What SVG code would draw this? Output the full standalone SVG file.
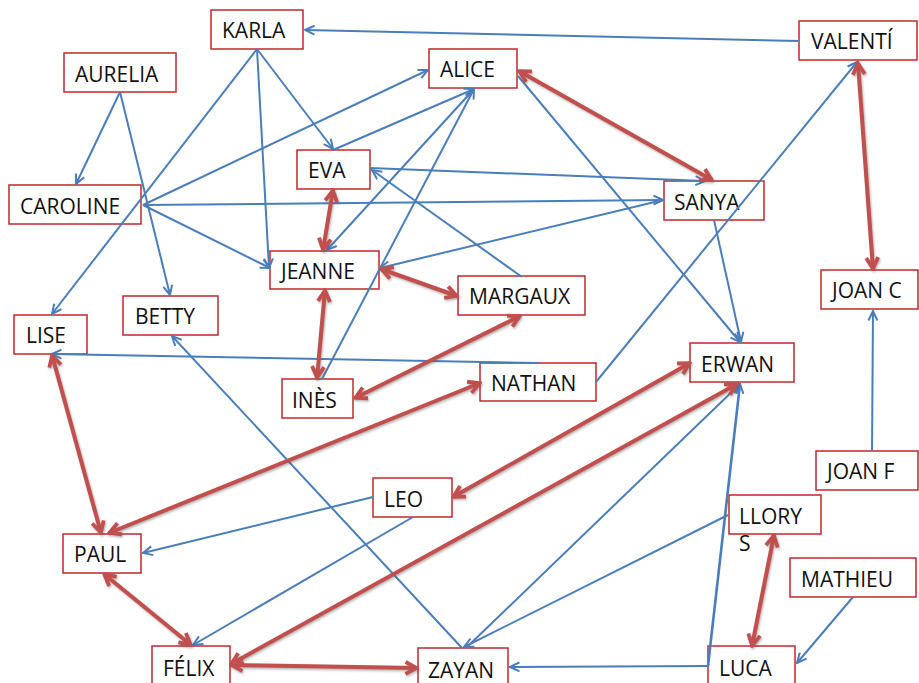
<svg xmlns="http://www.w3.org/2000/svg" width="919" height="683" viewBox="0 0 919 683">
<style>
.box{fill:#fff;stroke:#c4262b;stroke-width:1.5}
.lbl{font-family:"Open Sans","Liberation Sans",sans-serif;font-size:21px;fill:#111}
.b{stroke:#4a7ebb;stroke-width:2;fill:none;marker-end:url(#ab)}
.r{stroke:#c0504d;stroke-width:4;fill:none;marker-start:url(#ar);marker-end:url(#ar)}
</style>
<defs>
<marker id="ab" viewBox="0 0 12 12" refX="11" refY="6" markerWidth="12" markerHeight="12" markerUnits="userSpaceOnUse" orient="auto">
<path d="M1.5,1.5 L11,6 L1.5,10.5" fill="none" stroke="#4a7ebb" stroke-width="2"/>
</marker>
<marker id="ar" viewBox="0 0 16 16" refX="14" refY="8" markerWidth="16" markerHeight="16" markerUnits="userSpaceOnUse" orient="auto-start-reverse">
<path d="M2.5,2 L13.5,8 L2.5,14" fill="none" stroke="#c0504d" stroke-width="3.8" stroke-linejoin="miter"/>
</marker>
<filter id="sh" x="-10%" y="-10%" width="120%" height="120%">
<feDropShadow dx="1" dy="1.5" stdDeviation="0.8" flood-color="#555" flood-opacity="0.45"/>
</filter>
</defs>
<rect width="919" height="683" fill="#fff"/>
<g id="nodes">
<g id="karla"><rect class="box" x="211" y="10" width="92" height="39"/><text class="lbl" x="222" y="38">KARLA</text></g>
<g id="aurelia"><rect class="box" x="64" y="53" width="112" height="39"/><text class="lbl" x="75" y="82">AURELIA</text></g>
<g id="caroline"><rect class="box" x="9" y="185" width="132" height="39"/><text class="lbl" x="20" y="214">CAROLINE</text></g>
<g id="alice"><rect class="box" x="429" y="49" width="88" height="39"/><text class="lbl" x="440" y="77">ALICE</text></g>
<g id="eva"><rect class="box" x="297" y="150" width="73" height="39"/><text class="lbl" x="308" y="178">EVA</text></g>
<g id="valenti"><rect class="box" x="799" y="21" width="118" height="39"/><text class="lbl" x="811" y="49">VALENTÍ</text></g>
<g id="sanya"><rect class="box" x="664" y="181" width="100" height="39"/><text class="lbl" x="674" y="210">SANYA</text></g>
<g id="lise"><rect class="box" x="14" y="315" width="73" height="39"/><text class="lbl" x="26" y="343">LISE</text></g>
<g id="betty"><rect class="box" x="123" y="296" width="95" height="39"/><text class="lbl" x="135" y="324">BETTY</text></g>
<g id="jeanne"><rect class="box" x="270" y="251" width="109" height="38"/><text class="lbl" x="281" y="279">JEANNE</text></g>
<g id="ines"><rect class="box" x="282" y="379" width="71" height="39"/><text class="lbl" x="292" y="408">INÈS</text></g>
<g id="margaux"><rect class="box" x="458" y="276" width="127" height="39"/><text class="lbl" x="469" y="304">MARGAUX</text></g>
<g id="nathan"><rect class="box" x="480" y="363" width="116" height="38"/><text class="lbl" x="491" y="391">NATHAN</text></g>
<g id="erwan"><rect class="box" x="690" y="343" width="104" height="39"/><text class="lbl" x="701" y="372">ERWAN</text></g>
<g id="joanc"><rect class="box" x="821" y="270" width="97" height="39"/><text class="lbl" x="832" y="298">JOAN C</text></g>
<g id="joanf"><rect class="box" x="816" y="451" width="102" height="39"/><text class="lbl" x="827" y="479">JOAN F</text></g>
<g id="llorys"><rect class="box" x="729" y="495" width="92" height="39"/><text class="lbl" x="739" y="524">LLORY</text><text class="lbl" x="739" y="551">S</text></g>
<g id="mathieu"><rect class="box" x="790" y="558" width="126" height="39"/><text class="lbl" x="801" y="587">MATHIEU</text></g>
<g id="luca"><rect class="box" x="708" y="646" width="87" height="40"/><text class="lbl" x="719" y="676">LUCA</text></g>
<g id="paul"><rect class="box" x="63" y="534" width="78" height="39"/><text class="lbl" x="74" y="562">PAUL</text></g>
<g id="felix"><rect class="box" x="152" y="646" width="78" height="40"/><text class="lbl" x="163" y="676">FÉLIX</text></g>
<g id="leo"><rect class="box" x="373" y="478" width="79" height="39"/><text class="lbl" x="384" y="507">LEO</text></g>
<g id="zayan"><rect class="box" x="418" y="648" width="90" height="40"/><text class="lbl" x="428" y="678">ZAYAN</text></g>
</g>
<g id="connectors">
<g id="blue">
<path class="b" d="M799,41 L305,30"/>
<path class="b" d="M257,49 L52,314"/>
<path class="b" d="M257,49 L269,268"/>
<path class="b" d="M257,49 L333,149"/>
<path class="b" d="M120,92 L76,184"/>
<path class="b" d="M120,92 L170,295"/>
<path class="b" d="M143,205 L428,70"/>
<path class="b" d="M143,205 L663,200"/>
<path class="b" d="M143,205 L270,268"/>
<path class="b" d="M333,150 L474,89"/>
<path class="b" d="M474,89 L327,250"/>
<path class="b" d="M322,379 L474,89"/>
<path class="b" d="M370,168 L705,181"/>
<path class="b" d="M522,277 L372,170"/>
<path class="b" d="M663,200 L380,268"/>
<path class="b" d="M518,76 L740,342"/>
<path class="b" d="M714,220 L741,342"/>
<path class="b" d="M596,382 L857,62"/>
<path class="b" d="M538,363 L52,354"/>
<path class="b" d="M462,648 L172,336"/>
<path class="b" d="M373,497 L143,553"/>
<path class="b" d="M413,517 L193,645"/>
<path class="b" d="M728,515 L464,647"/>
<path class="b" d="M466,648 L740,384"/>
<path class="b" d="M708,666 L740,384" style="stroke-width:2.6"/>
<path class="b" d="M708,666 L510,667"/>
<path class="b" d="M853,597 L797,663"/>
<path class="b" d="M872,451 L873,311"/>
</g>
<g id="red" filter="url(#sh)">
<path class="r" d="M519,71 L712,180"/>
<path class="r" d="M858,63 L873,269"/>
<path class="r" d="M333,190 L323,250"/>
<path class="r" d="M381,269 L457,296"/>
<path class="r" d="M325,290 L317,378"/>
<path class="r" d="M520,316 L355,398"/>
<path class="r" d="M52,355 L101,533"/>
<path class="r" d="M109,533 L480,383"/>
<path class="r" d="M690,363 L453,497"/>
<path class="r" d="M737,384 L231,664"/>
<path class="r" d="M104,574 L191,645"/>
<path class="r" d="M231,665 L417,668"/>
<path class="r" d="M774,535 L752,646"/>
</g>
</g>
</svg>
